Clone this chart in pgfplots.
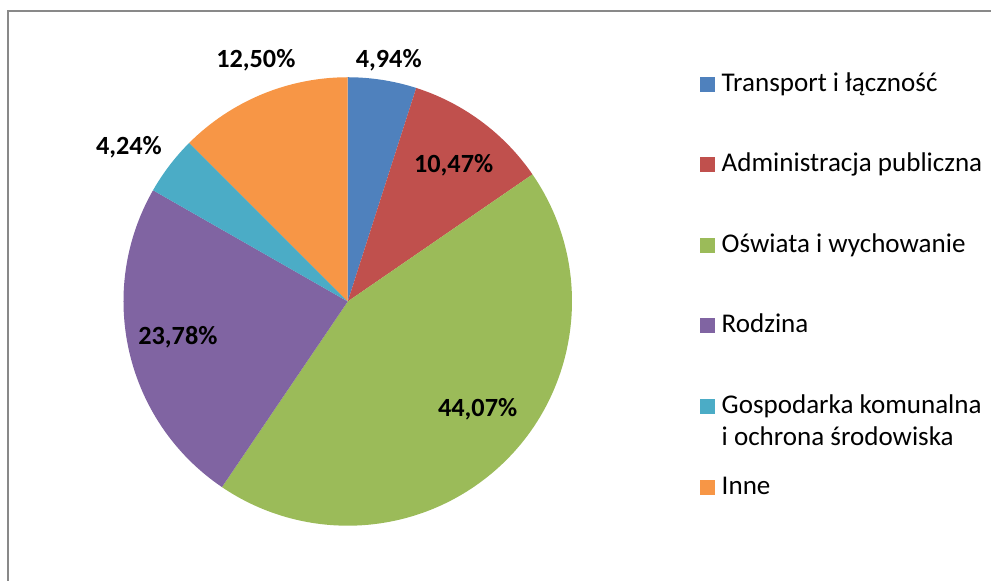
\documentclass[border=0pt]{standalone}
\usepackage{pgfplots}
\pgfplotsset{compat=1.18}
\usepackage{pgfplotstable}
\usepackage{fontspec}
\setmainfont{Carlito}
\definecolor{c0}{HTML}{4F81BD}
\definecolor{c1}{HTML}{C0504D}
\definecolor{c2}{HTML}{9BBB59}
\definecolor{c3}{HTML}{8064A2}
\definecolor{c4}{HTML}{4BACC6}
\definecolor{c5}{HTML}{F79646}
\definecolor{framegray}{HTML}{898989}
% value = share in percent; lx, ly = label position (px), ky = legend baseline (px from top)
\pgfplotstableread{
idx value lx  ly  ky
0   4.94  389 513 92
1   10.47 454 408 172
2   44.07 478 164 253
3   23.78 178 236 333
4   4.24  129 426 414
5   12.50 256 513 495
}\piedata
\begin{document}
\begin{tikzpicture}
\def\cumsum{0}
\pgfplotsforeachungrouped \i in {0,...,5}{%
  \pgfplotstablegetelem{\i}{value}\of\piedata
  \let\v\pgfplotsretval
  \expandafter\xdef\csname val\i\endcsname{\v}%
  \pgfmathsetmacro\a{90-3.6*\cumsum}%
  \pgfmathsetmacro\cumsum{\cumsum+\v}%
  \pgfmathsetmacro\b{90-3.6*\cumsum}%
  \expandafter\xdef\csname sa\i\endcsname{\a}%
  \expandafter\xdef\csname sb\i\endcsname{\b}%
  \pgfplotstablegetelem{\i}{lx}\of\piedata
  \expandafter\xdef\csname lx\i\endcsname{\pgfplotsretval}%
  \pgfplotstablegetelem{\i}{ly}\of\piedata
  \expandafter\xdef\csname ly\i\endcsname{\pgfplotsretval}%
  \pgfplotstablegetelem{\i}{ky}\of\piedata
  \pgfmathsetmacro\k{581-\pgfplotsretval}%
  \expandafter\xdef\csname ky\i\endcsname{\k}%
}
\begin{axis}[
  width=744pt, height=435.75pt, scale only axis,
  xmin=0, xmax=992, ymin=0, ymax=581,
  axis lines=none, ticks=none, clip=false,
]
\path (axis cs:0,0) rectangle (axis cs:992,581);
% frame
\draw[framegray, line width=1.1pt] (axis cs:8,0) -- (axis cs:8,570) -- (axis cs:992,570);
% slices
\pgfplotsinvokeforeach{0,...,5}{%
  \fill[c#1] (axis cs:348,279.3) -- ++({\csname sa#1\endcsname}:168.3pt)
     arc[start angle=\csname sa#1\endcsname, end angle=\csname sb#1\endcsname, radius=168.3pt] -- cycle;
}
% labels
\pgfplotsinvokeforeach{0,...,5}{%
  \node[anchor=base, inner sep=0pt, font=\fontsize{19.7}{23}\selectfont\bfseries]
    at (axis cs:\csname lx#1\endcsname,\csname ly#1\endcsname)
    {\pgfmathprintnumber[use comma, fixed, fixed zerofill, precision=2, assume math mode=true]{\csname val#1\endcsname}\%};
}
% legend
\pgfplotsinvokeforeach{0,...,5}{%
  \fill[c#1] (axis cs:701,\csname ky#1\endcsname) rectangle (axis cs:716,\csname ky#1\endcsname+15);
}
\begin{scope}[every node/.style={anchor=base west, inner sep=0pt, font=\fontsize{20.3}{24}\selectfont}]
\node at (axis cs:722,\csname ky0\endcsname) {Transport i łączność};
\node at (axis cs:722,\csname ky1\endcsname) {Administracja publiczna};
\node at (axis cs:722,\csname ky2\endcsname) {Oświata i wychowanie};
\node at (axis cs:722,\csname ky3\endcsname) {Rodzina};
\node at (axis cs:722,\csname ky4\endcsname) {Gospodarka komunalna};
\node at (axis cs:722,135) {i ochrona środowiska};
\node at (axis cs:722,\csname ky5\endcsname) {Inne};
\end{scope}
\end{axis}
\end{tikzpicture}
\end{document}
